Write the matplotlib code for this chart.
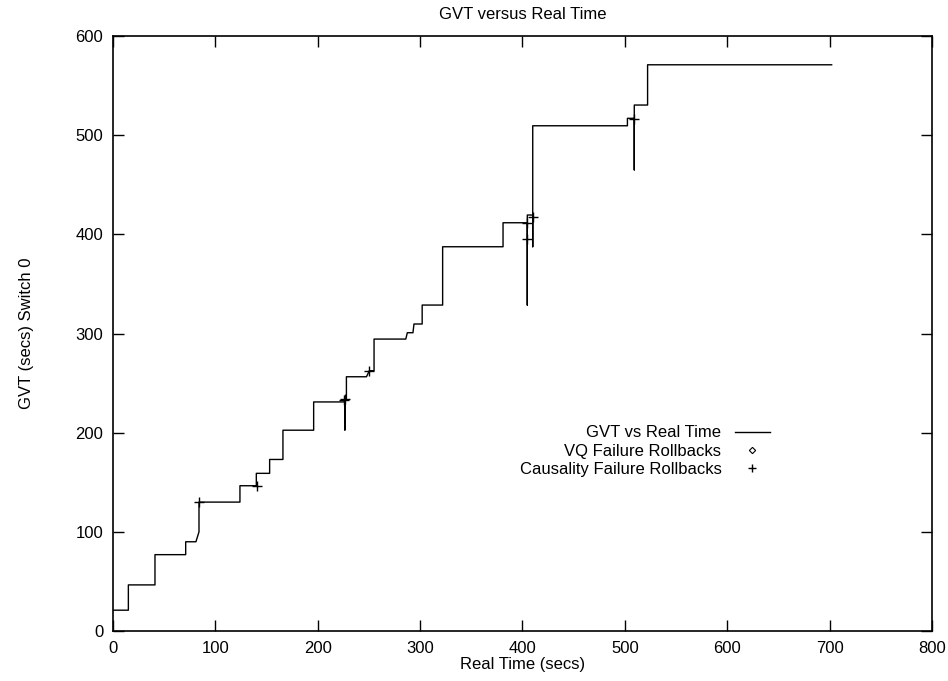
import matplotlib
matplotlib.use("Agg")
import matplotlib.pyplot as plt

plt.rcParams['font.family'] = ['Liberation Sans', 'DejaVu Sans']

# GVT path (real time secs, GVT secs), vertices of the stepped trace
real_time = [0, 15, 15, 41, 41, 71, 71, 81, 84, 84, 124, 124, 140, 140, 153, 153,
             166, 166, 196, 196, 226.5, 226.5, 226.5, 228, 228, 247.6, 250.4, 255,
             255, 286, 287.5, 293, 294, 302, 302, 322, 322, 381, 381, 404.7, 404.7,
             404.7, 410, 410, 410, 502.5, 502.5, 509.2, 509.2, 509.2, 522.2, 522.2, 702]
gvt = [21, 21, 46.5, 46.5, 77, 77, 90, 90, 100, 130, 130, 146.5, 146.5, 159, 159, 173,
       173, 202.5, 202.5, 231, 231, 202.7, 233, 233, 256.4, 256.4, 262.5, 262.5,
       294.4, 294.4, 300.8, 300.8, 309.6, 309.6, 328.7, 328.7, 387.5, 387.5, 411.7,
       411.7, 328.7, 419.5, 419.5, 387.5, 509.5, 509.5, 517, 517, 465, 530.4, 530.4,
       571, 571]

# causality failure rollbacks
cf_time = [84, 140.3, 226, 227, 250.4, 404.7, 404.7, 410, 508.5]
cf_gvt = [130.4, 146.5, 233, 234, 262.5, 395, 411.7, 417.8, 516.6]

# VQ failure rollbacks (none in this run)
vq_time = []
vq_gvt = []

fig = plt.figure(figsize=(9.48, 6.81), dpi=100)
ax = fig.add_axes([0.1192, 0.0734, 0.8639, 0.8737])

ax.plot(real_time, gvt, color='black', lw=1.0, label='GVT vs Real Time')
ax.plot(vq_time, vq_gvt, ls='none', marker='D', ms=4, mfc='none', mec='black',
        mew=0.8, label='VQ Failure Rollbacks')
ax.plot(cf_time, cf_gvt, ls='none', marker='+', ms=7, mec='black', mew=1.0,
        label='Causality Failure Rollbacks')

ax.set_xlim(0, 800)
ax.set_ylim(0, 600)
ax.set_xticks(range(0, 801, 100))
ax.set_yticks(range(0, 601, 100))
ax.tick_params(direction='in', length=8, width=1, top=True, right=True,
               labelsize=12, pad=7)
for s in ax.spines.values():
    s.set_linewidth(1.2)

ax.set_title('GVT versus Real Time', fontsize=12, pad=12)
ax.set_xlabel('Real Time (secs)', fontsize=12, labelpad=1)
ax.set_ylabel('GVT (secs) Switch 0', fontsize=12, labelpad=30)

ax.legend(loc='center right', bbox_to_anchor=(0.802, 0.302), frameon=False,
          markerfirst=False, fontsize=12, handlelength=2.1, handletextpad=0.8,
          labelspacing=0.2, borderpad=0, borderaxespad=0, markerscale=0.8)

fig.savefig('out.png', dpi=100)
